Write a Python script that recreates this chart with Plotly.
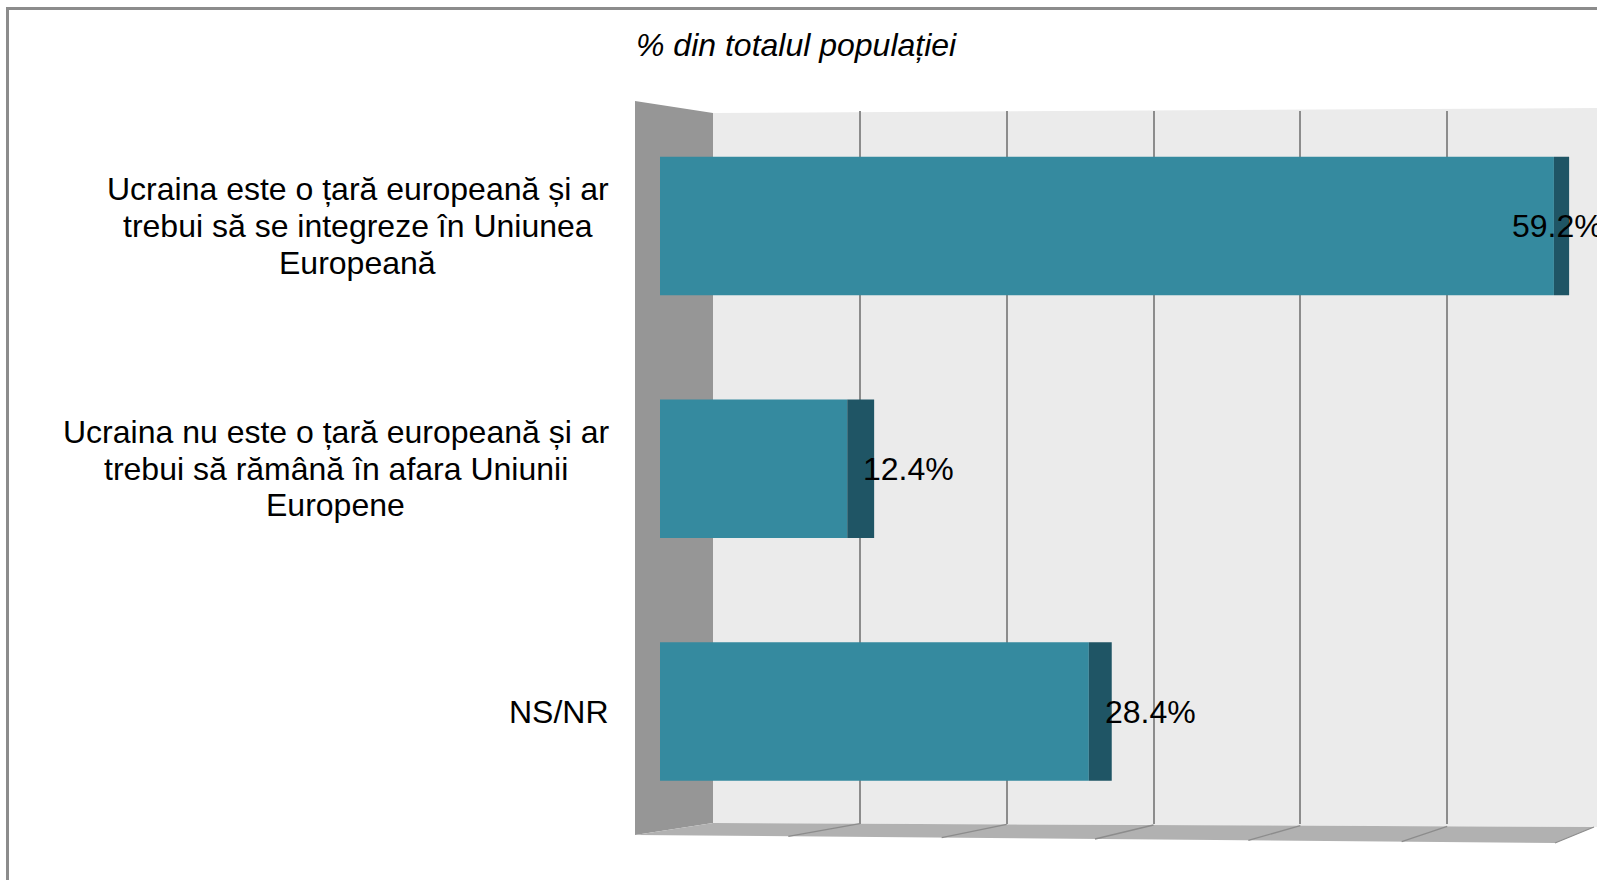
import plotly.graph_objects as go

# ---------------- data ----------------
categories = [
    "Ucraina este o țară europeană și ar<br>trebui să se integreze în Uniunea<br>Europeană",
    "Ucraina nu este o țară europeană și ar<br>trebui să rămână în afara Uniunii<br>Europene",
    "NS/NR",
]
values = [59.2, 12.4, 28.4]
value_labels = ["59.2%", "12.4%", "28.4%"]
grid_ticks = [0, 10, 20, 30, 40, 50, 60]
title_text = "% din totalul populației"

# ---------------- style / geometry ----------------
W, H = 1597, 880
FONT = "Liberation Sans, Arial, sans-serif"
FS = 32
LINE_H = 36.7
FRONT = "#358a9f"
SIDE = "#1f5565"
BACKWALL = "#ebebeb"
SIDEWALL = "#969696"
FLOOR = "#b1b1b1"
GRID = "#8c8c8c"

# Arial / Liberation Sans advance widths (1/1000 em) for centering wrapped lines
ARIAL_W = {" ": 278, "a": 556, "b": 556, "c": 500, "d": 556, "e": 556, "f": 278,
           "g": 556, "h": 556, "i": 222, "j": 222, "k": 500, "l": 222, "m": 833,
           "n": 556, "o": 556, "p": 556, "r": 333, "s": 500, "t": 278, "u": 556,
           "v": 500, "z": 500, "ț": 278, "ă": 556, "ș": 500, "î": 278, "â": 556,
           "E": 667, "N": 722, "R": 722, "S": 667, "U": 722, "/": 278}


def text_w(s, size):
    return sum(ARIAL_W.get(ch, 556) for ch in s) * size / 1000


def px(x):
    return x / W


def py(y):
    return 1 - y / H


# front plane (bars): 0% at x=660, ~15.1 px per %
BAR_X0, BAR_SCALE = 660, 15.1
BAR_RANGE = [0, 62]
# back wall grid: 0% at 713 -> 60% at 1594
BACK_X0, BACK_X1 = 713, 1594
BACK_TOP, BACK_BOT = 111, 824
# floor front edge
FLOOR_FX0, FLOOR_FX1 = 635, 1555
LABEL_RIGHT = 611

cat_pitch = 242.75
cat_center0 = 226.0
y_top = cat_center0 - 0.5 * cat_pitch
y_bot = y_top + 3 * cat_pitch

fig = go.Figure()

# invisible trace on the back-wall subplot (drawn first -> below bars)
fig.add_trace(go.Scatter(x=[0], y=[0], mode="markers", marker=dict(opacity=0),
                         hoverinfo="skip", showlegend=False, xaxis="x", yaxis="y"))

# front faces of the bars
fig.add_trace(go.Bar(
    y=list(range(len(categories))), x=values, orientation="h",
    marker=dict(color=FRONT, line=dict(width=0)), width=0.57,
    xaxis="x2", yaxis="y2", showlegend=False, hoverinfo="skip",
))
# right-hand side faces (perspective depth depends on bar end position)
depth_units = [(30 - 0.25 * v) / BAR_SCALE for v in values]
fig.add_trace(go.Bar(
    y=list(range(len(categories))), x=depth_units, base=values, orientation="h",
    marker=dict(color=SIDE, line=dict(width=0)), width=0.57,
    xaxis="x2", yaxis="y2", showlegend=False, hoverinfo="skip",
))

shapes = []
# back wall
shapes.append(dict(type="path", xref="paper", yref="paper", layer="below",
                   path=f"M{px(BACK_X0)},{py(113)} L{px(1597)},{py(108)} L{px(1597)},{py(827)} L{px(BACK_X0)},{py(823)} Z",
                   fillcolor=BACKWALL, line=dict(width=0)))
# left side wall
shapes.append(dict(type="path", xref="paper", yref="paper", layer="below",
                   path=f"M{px(635)},{py(101)} L{px(BACK_X0)},{py(113)} L{px(BACK_X0)},{py(823)} L{px(635)},{py(835)} Z",
                   fillcolor=SIDEWALL, line=dict(width=0)))
# floor
shapes.append(dict(type="path", xref="paper", yref="paper", layer="below",
                   path=f"M{px(FLOOR_FX0)},{py(835)} L{px(BACK_X0)},{py(823)} L{px(BACK_X1)},{py(827)} L{px(FLOOR_FX1)},{py(843)} Z",
                   fillcolor=FLOOR, line=dict(width=0)))
# floor tick lines continuing the grid
for t in grid_ticks[1:]:
    f = t / grid_ticks[-1]
    xb = BACK_X0 + f * (BACK_X1 - BACK_X0)
    yb = 823 + f * 4
    xf = FLOOR_FX0 + f * (FLOOR_FX1 - FLOOR_FX0)
    yf = 835 + f * 8
    shapes.append(dict(type="line", xref="paper", yref="paper", layer="below",
                       x0=px(xb), y0=py(yb), x1=px(xf), y1=py(yf),
                       line=dict(color=GRID, width=1.3)))
# chart border (top and left visible, rest cut by the image edge)
shapes.append(dict(type="rect", xref="paper", yref="paper", layer="above",
                   x0=px(7.5), y0=-0.05, x1=1.05, y1=py(8.5),
                   line=dict(color=GRID, width=3), fillcolor="rgba(0,0,0,0)"))

annotations = []
# title
annotations.append(dict(text=f"<i>{title_text}</i>", xref="paper", yref="paper",
                        x=px(796), y=py(45), xanchor="center", yanchor="middle",
                        showarrow=False, font=dict(family=FONT, size=FS, color="black")))
# category labels: lines centered within the block, block right-aligned
for i, c in enumerate(categories):
    lines = c.split("<br>")
    maxw = max(text_w(s, FS) for s in lines)
    n = len(lines)
    for j, s in enumerate(lines):
        xr = LABEL_RIGHT - (maxw - text_w(s, FS)) / 2
        annotations.append(dict(text=s, xref="paper", yref="y2", x=px(xr), y=i,
                                xanchor="right", yanchor="middle",
                                yshift=-(j - (n - 1) / 2) * LINE_H,
                                showarrow=False,
                                font=dict(family=FONT, size=FS, color="black")))
# value labels
for i, (v, lab) in enumerate(zip(values, value_labels)):
    inside = v > 50
    annotations.append(dict(text=lab, xref="x2", yref="y2", x=v, y=i,
                            xanchor="center" if inside else "left",
                            xshift=4 if inside else 14,
                            yanchor="middle", showarrow=False,
                            font=dict(family=FONT, size=FS, color="black")))

fig.update_layout(
    width=W, height=H,
    margin=dict(l=0, r=0, t=0, b=0, pad=0),
    paper_bgcolor="white", plot_bgcolor="rgba(0,0,0,0)",
    showlegend=False,
    barmode="overlay",
    xaxis=dict(domain=[px(BACK_X0), px(BACK_X1)], range=[grid_ticks[0], grid_ticks[-1]],
               tickvals=grid_ticks, showticklabels=False, ticks="",
               showgrid=True, gridcolor=GRID, gridwidth=1.5, zeroline=False,
               showline=False, anchor="y", fixedrange=True),
    yaxis=dict(domain=[py(BACK_BOT), py(BACK_TOP)], range=[0, 1], visible=False,
               anchor="x", fixedrange=True),
    xaxis2=dict(domain=[px(BAR_X0), px(BAR_X0 + BAR_RANGE[1] * BAR_SCALE)], range=BAR_RANGE,
                visible=False, anchor="y2", fixedrange=True),
    yaxis2=dict(domain=[py(y_bot), py(y_top)], range=[2.5, -0.5], visible=False,
                anchor="x2", fixedrange=True),
    shapes=shapes,
    annotations=annotations,
)

fig.write_html("out.html", config={"displayModeBar": False},
               post_script="document.body.style.margin='0';document.body.style.overflow='hidden';")
